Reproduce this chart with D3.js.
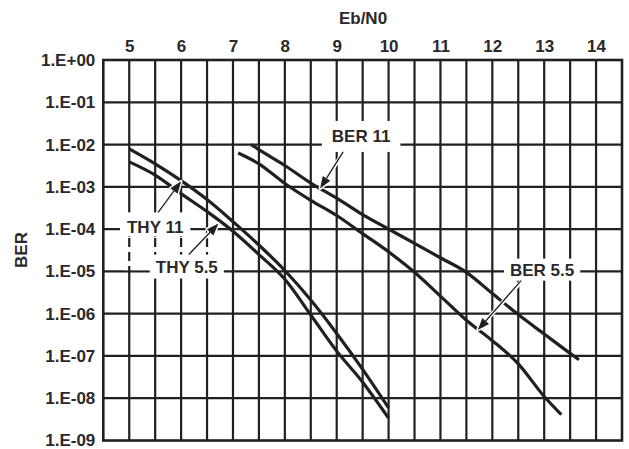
<!DOCTYPE html>
<html>
<head>
<meta charset="utf-8">
<script src="https://cdn.jsdelivr.net/npm/d3@7"></script>
<style>
  html, body { margin: 0; padding: 0; background: #fff; }
  svg { display: block; }
  text { font-family: "Liberation Sans", Arial, Helvetica, sans-serif; font-weight: bold; fill: #2b2829; }
</style>
</head>
<body>
<svg id="chart" width="629" height="449"></svg>
<script>
// Eb/N0 axis ticks and BER decade ticks
const xTicks = [5, 6, 7, 8, 9, 10, 11, 12, 13, 14];
const yTicks = [1, 1e-1, 1e-2, 1e-3, 1e-4, 1e-5, 1e-6, 1e-7, 1e-8, 1e-9];
const yTickLabels = ["1.E+00", "1.E-01", "1.E-02", "1.E-03", "1.E-04",
                     "1.E-05", "1.E-06", "1.E-07", "1.E-08", "1.E-09"];

// Theoretical curves
const thy11EbN0 = [5, 5.5, 6, 6.5, 7, 7.5, 8, 8.5, 9, 9.5, 10];
const thy11Ber  = [7.9e-3, 3.5e-3, 1.4e-3, 5.0e-4, 1.5e-4, 4.2e-5, 1.05e-5, 2.1e-6, 3.4e-7, 4.8e-8, 5.9e-9];
const thy55EbN0 = [5, 5.5, 6, 6.5, 7, 7.5, 8, 8.5, 9, 9.5, 10];
const thy55Ber  = [3.9e-3, 1.9e-3, 6.9e-4, 2.6e-4, 8.9e-5, 2.5e-5, 6.5e-6, 9.3e-7, 1.3e-7, 2.4e-8, 3.4e-9];

// Measured curves
const ber11EbN0 = [7.35, 7.5, 8, 8.5, 9, 9.5, 10, 10.5, 11, 11.5, 12, 12.5, 13, 13.5, 13.67];
const ber11Ber  = [1.0e-2, 7.6e-3, 3.2e-3, 1.23e-3, 5.4e-4, 2.2e-4, 1.0e-4, 4.6e-5, 2.1e-5, 9.5e-6, 3.0e-6, 9.5e-7, 3.3e-7, 1.15e-7, 8.1e-8];
const ber55EbN0 = [7.1, 7.5, 8, 8.5, 9, 9.5, 10, 10.5, 11, 11.5, 12, 12.5, 13, 13.33];
const ber55Ber  = [6.3e-3, 3.5e-3, 1.2e-3, 4.8e-4, 2.1e-4, 7.8e-5, 2.9e-5, 9.5e-6, 2.6e-6, 7.0e-7, 2.3e-7, 6.5e-8, 1.1e-8, 4.1e-9];

// Curve labels: label anchor and arrow target, both in data units
const labelNames   = ["THY 11", "THY 5.5", "BER 11", "BER 5.5"];
const labelEbN0    = [5.5, 6.11, 9.47, 12.96];
const labelBer     = [1.1e-4, 1.3e-5, 1.6e-2, 1.1e-5];
const targetEbN0   = [6.0, 6.72, 8.68, 11.72];
const targetBer    = [1.35e-3, 1.35e-4, 9.1e-4, 4.1e-7];

const ink = "#231f20";
const svg = d3.select("#chart");

const x = d3.scaleLinear().domain([4.5, 14.5]).range([103.3, 622]);
const y = d3.scaleLog().domain([1e-9, 1]).range([440.5, 60]);

// Grid: verticals every 0.5 dB, horizontals every decade
const gridX = d3.range(5, 14.01, 0.5);
const g = svg.append("g");
g.selectAll("line.v").data(gridX).join("line")
  .attr("x1", d => x(d)).attr("x2", d => x(d))
  .attr("y1", y(1)).attr("y2", y(1e-9))
  .attr("stroke", ink).attr("stroke-width", 2.2);
g.selectAll("line.h").data(yTicks.slice(1, -1)).join("line")
  .attr("x1", x(4.5)).attr("x2", x(14.5))
  .attr("y1", d => y(d)).attr("y2", d => y(d))
  .attr("stroke", ink).attr("stroke-width", 2.2);

// Gridlines between the two theory labels are drawn broken
const brokenX = [5, 5.5, 6, 6.5];
const brokenTop = y(6.5e-5), brokenBottom = [y(1e-5), y(1.9e-5), y(1.9e-5), y(1.9e-5)];
g.append("rect")
  .attr("x", x(4.9)).attr("y", brokenTop)
  .attr("width", x(6.6) - x(4.9)).attr("height", y(1e-5) - brokenTop - 1.2)
  .attr("fill", "#fff");
g.selectAll("line.b").data(brokenX).join("line")
  .attr("x1", d => x(d)).attr("x2", d => x(d))
  .attr("y1", brokenTop + 1).attr("y2", (d, i) => brokenBottom[i])
  .attr("stroke", ink).attr("stroke-width", 2.2)
  .attr("stroke-dasharray", "9,5");

// Frame
g.append("rect")
  .attr("x", x(4.5)).attr("y", y(1))
  .attr("width", x(14.5) - x(4.5)).attr("height", y(1e-9) - y(1))
  .attr("fill", "none").attr("stroke", ink).attr("stroke-width", 2.6);

// Axes
const xAxis = d3.axisTop(x).tickValues(xTicks).tickSize(0).tickPadding(8).tickFormat(d3.format("d"));
svg.append("g").attr("transform", `translate(0,${y(1)})`).call(xAxis)
  .call(s => s.select(".domain").remove())
  .selectAll("text").attr("font-size", 17).attr("fill", "#2b2829")
  .attr("font-family", "Liberation Sans, Arial, sans-serif").attr("font-weight", "bold");

const yAxis = d3.axisLeft(y).tickValues(yTicks).tickSize(0).tickPadding(8)
  .tickFormat((d, i) => yTickLabels[i]);
svg.append("g").attr("transform", `translate(${x(4.5)},0)`).call(yAxis)
  .call(s => s.select(".domain").remove())
  .selectAll("text").attr("font-size", 17).attr("fill", "#2b2829")
  .attr("font-family", "Liberation Sans, Arial, sans-serif").attr("font-weight", "bold");

svg.append("text").attr("x", 363).attr("y", 24).attr("text-anchor", "middle")
  .attr("font-size", 17).text("Eb/N0");
svg.append("text").attr("transform", "translate(27,250) rotate(-90)")
  .attr("text-anchor", "middle").attr("font-size", 17).text("BER");

// Curves
const line = d3.line().x(d => x(d[0])).y(d => y(d[1])).curve(d3.curveMonotoneX);
const series = [
  d3.zip(thy11EbN0, thy11Ber),
  d3.zip(thy55EbN0, thy55Ber),
  d3.zip(ber11EbN0, ber11Ber),
  d3.zip(ber55EbN0, ber55Ber)
];
svg.append("g").selectAll("path").data(series).join("path")
  .attr("d", line).attr("fill", "none").attr("stroke", ink)
  .attr("stroke-width", 3.2);

// Labels with white boxes and haloed arrows
const boxPadX = [7, 6, 10, 6];
const boxUp   = [15, 12, 15, 11];
const boxDown = [9, 12, 16, 11];
const arrowFromTop = [true, true, false, false];
const arrowDx = [3, 2, -18, -21];

const ann = svg.append("g");
labelNames.forEach((name, i) => {
  const cx = x(labelEbN0[i]), cy = y(labelBer[i]);
  const t = ann.append("text").attr("x", cx).attr("y", cy).attr("dy", "0.35em")
    .attr("text-anchor", "middle").attr("font-size", 17).text(name);
  const bb = t.node().getBBox();
  const top = cy - boxUp[i], bot = cy + boxDown[i];
  ann.insert("rect", "text")
    .attr("x", bb.x - boxPadX[i]).attr("y", top)
    .attr("width", bb.width + 2 * boxPadX[i]).attr("height", bot - top)
    .attr("fill", "#fff");

  const sx = cx + arrowDx[i], sy = arrowFromTop[i] ? top : bot;
  const tx = x(targetEbN0[i]), ty = y(targetBer[i]);
  const ang = Math.atan2(ty - sy, tx - sx);
  const L = 12, W = 4.5;
  const bx = tx - L * Math.cos(ang), by = ty - L * Math.sin(ang);
  const head = `M${tx},${ty}L${bx + W * Math.sin(ang)},${by - W * Math.cos(ang)}L${bx - W * Math.sin(ang)},${by + W * Math.cos(ang)}Z`;
  // white halo first, then the ink
  ann.append("line").attr("x1", sx).attr("y1", sy + (arrowFromTop[i] ? -1 : 1)).attr("x2", bx).attr("y2", by)
    .attr("stroke", "#fff").attr("stroke-width", 4);
  ann.append("path").attr("d", head).attr("fill", "#fff")
    .attr("stroke", "#fff").attr("stroke-width", 3).attr("stroke-linejoin", "round");
  ann.append("line").attr("x1", sx).attr("y1", sy).attr("x2", bx).attr("y2", by)
    .attr("stroke", ink).attr("stroke-width", 1.3);
  ann.append("path").attr("d", head).attr("fill", ink);
});
</script>
</body>
</html>
